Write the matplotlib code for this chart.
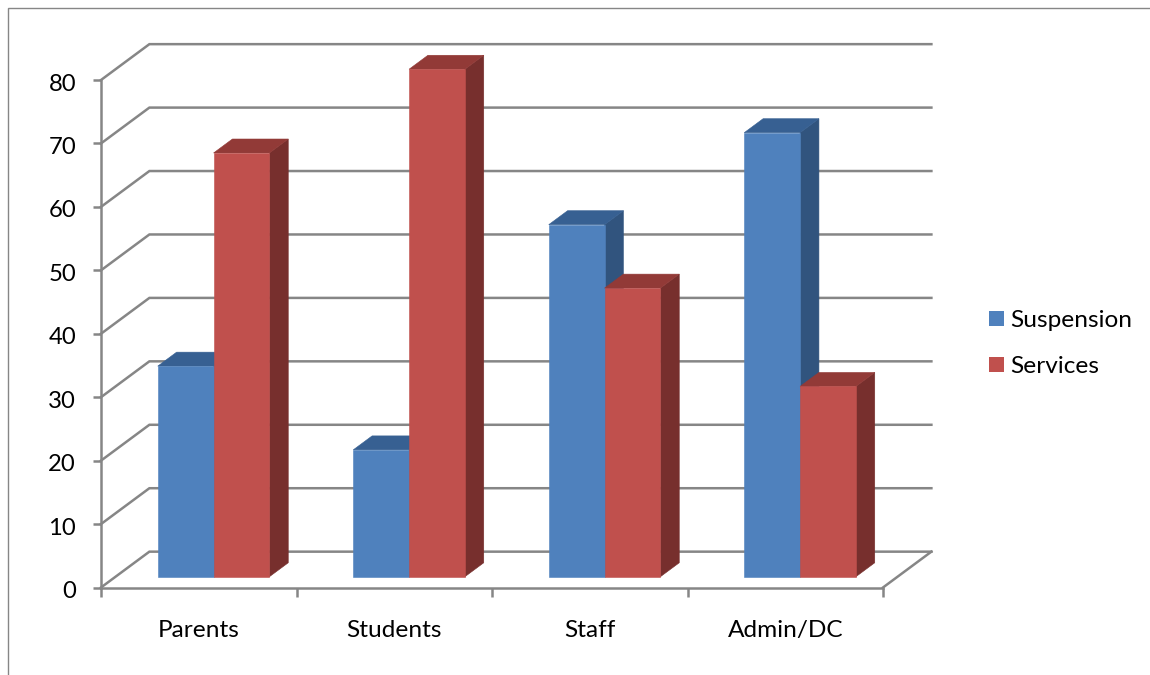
import matplotlib
matplotlib.use("Agg")
import matplotlib.pyplot as plt
from matplotlib.lines import Line2D
from matplotlib.patches import Patch, Polygon
from matplotlib.transforms import ScaledTranslation

categories = ["Parents", "Students", "Staff", "Admin/DC"]
suspension = [33.2, 20, 55.5, 70]
services = [66.8, 80, 45.5, 30]
series_names = ["Suspension", "Services"]
y_ticks = list(range(0, 90, 10))

W, H = 1150, 675
AXIS_GREY = "#868686"
LABEL_SIZE = 17.6
VALUE_SIZE = 17.2
LINE_W = 1.8

# Oblique projection of the floor depth, in category and value units
DEPTH_X = 0.2475
DEPTH_Y = 5.65
BAR_FRONT, BAR_BACK = 0.30, 0.69
GAP = 0.216
BAR_W = 0.2855

SHADES = [
    {"front": "#4F81BD", "top": "#376092", "side": "#31547E"},
    {"front": "#C0504D", "top": "#923A37", "side": "#772F2D"},
]

plt.rcParams["font.family"] = ["Lato", "DejaVu Sans"]
fig = plt.figure(figsize=(W / 100, H / 100), dpi=100)
left, right, top, bottom = 101, 883, 80, 587.5
ax = fig.add_axes([left / W, 1 - bottom / H, (right - left) / W, (bottom - top) / H])
ax.set_xlim(0, 4)
ax.set_ylim(0, 80)
ax.patch.set_visible(False)


def project(x, y, depth):
    return x + depth * DEPTH_X, y + depth * DEPTH_Y


# Back wall gridlines with their side-wall returns
for v in y_ticks:
    xs, ys = zip(project(0, v, 0), project(0, v, 1), project(4, v, 1))
    ax.plot(xs, ys, color=AXIS_GREY, lw=LINE_W, clip_on=False, zorder=1,
            solid_joinstyle="miter")
xs, ys = zip(project(4, 0, 1), project(4, 0, 0))
ax.plot(xs, ys, color=AXIS_GREY, lw=LINE_W, clip_on=False, zorder=1)


def draw_bar(x0, x1, value, shade, z):
    a, b = BAR_FRONT, BAR_BACK
    faces = {
        "side": [project(x1, 0, a), project(x1, 0, b), project(x1, value, b), project(x1, value, a)],
        "top": [project(x0, value, a), project(x1, value, a), project(x1, value, b), project(x0, value, b)],
        "front": [project(x0, 0, a), project(x1, 0, a), project(x1, value, a), project(x0, value, a)],
    }
    for name, pts in faces.items():
        ax.add_patch(Polygon(pts, closed=True, facecolor=shade[name], edgecolor=shade[name],
                             lw=0.4, clip_on=False, zorder=z))


for i in range(len(categories)):
    x = i + GAP
    draw_bar(x, x + BAR_W, suspension[i], SHADES[0], 3)
    draw_bar(x + BAR_W, x + 2 * BAR_W, services[i], SHADES[1], 4)

# Axes
for name in ("top", "right"):
    ax.spines[name].set_visible(False)
for name in ("left", "bottom"):
    ax.spines[name].set_color(AXIS_GREY)
    ax.spines[name].set_linewidth(LINE_W)
    ax.spines[name].set_zorder(2)
ax.set_yticks(y_ticks)
ax.tick_params(axis="y", length=6, width=LINE_W, color=AXIS_GREY, labelsize=VALUE_SIZE, pad=12,
               labelcolor="black")
ax.set_xticks(range(5))
ax.set_xticklabels([])
ax.tick_params(axis="x", which="major", length=6.5, width=LINE_W, color=AXIS_GREY)
ax.set_xticks([i + 0.5 for i in range(len(categories))], minor=True)
ax.set_xticklabels(categories, minor=True)
ax.tick_params(axis="x", which="minor", length=0, labelsize=LABEL_SIZE, pad=23.5, labelcolor="black")

# Nudge the value labels down to sit level with their ticks
nudge = ScaledTranslation(0, -1.5 / 72, fig.dpi_scale_trans)
for label in ax.get_yticklabels():
    label.set_transform(label.get_transform() + nudge)

# Legend
handles = [Patch(facecolor=SHADES[k]["front"], edgecolor="none", label=series_names[k]) for k in range(2)]
fig.legend(handles=handles, loc="center left", bbox_to_anchor=(989 / W, 1 - 343.5 / H),
           frameon=False, fontsize=LABEL_SIZE, handlelength=0.61, handleheight=0.61,
           handletextpad=0.27, labelspacing=1.02, borderpad=0, borderaxespad=0)

# Chart area border, open on the right and bottom
fig.add_artist(Line2D([8 / W, 8 / W, 1], [0, 1 - 7.5 / H, 1 - 7.5 / H], transform=fig.transFigure,
                      color=AXIS_GREY, lw=1.0, solid_joinstyle="miter"))

fig.savefig("out.png", dpi=100)
